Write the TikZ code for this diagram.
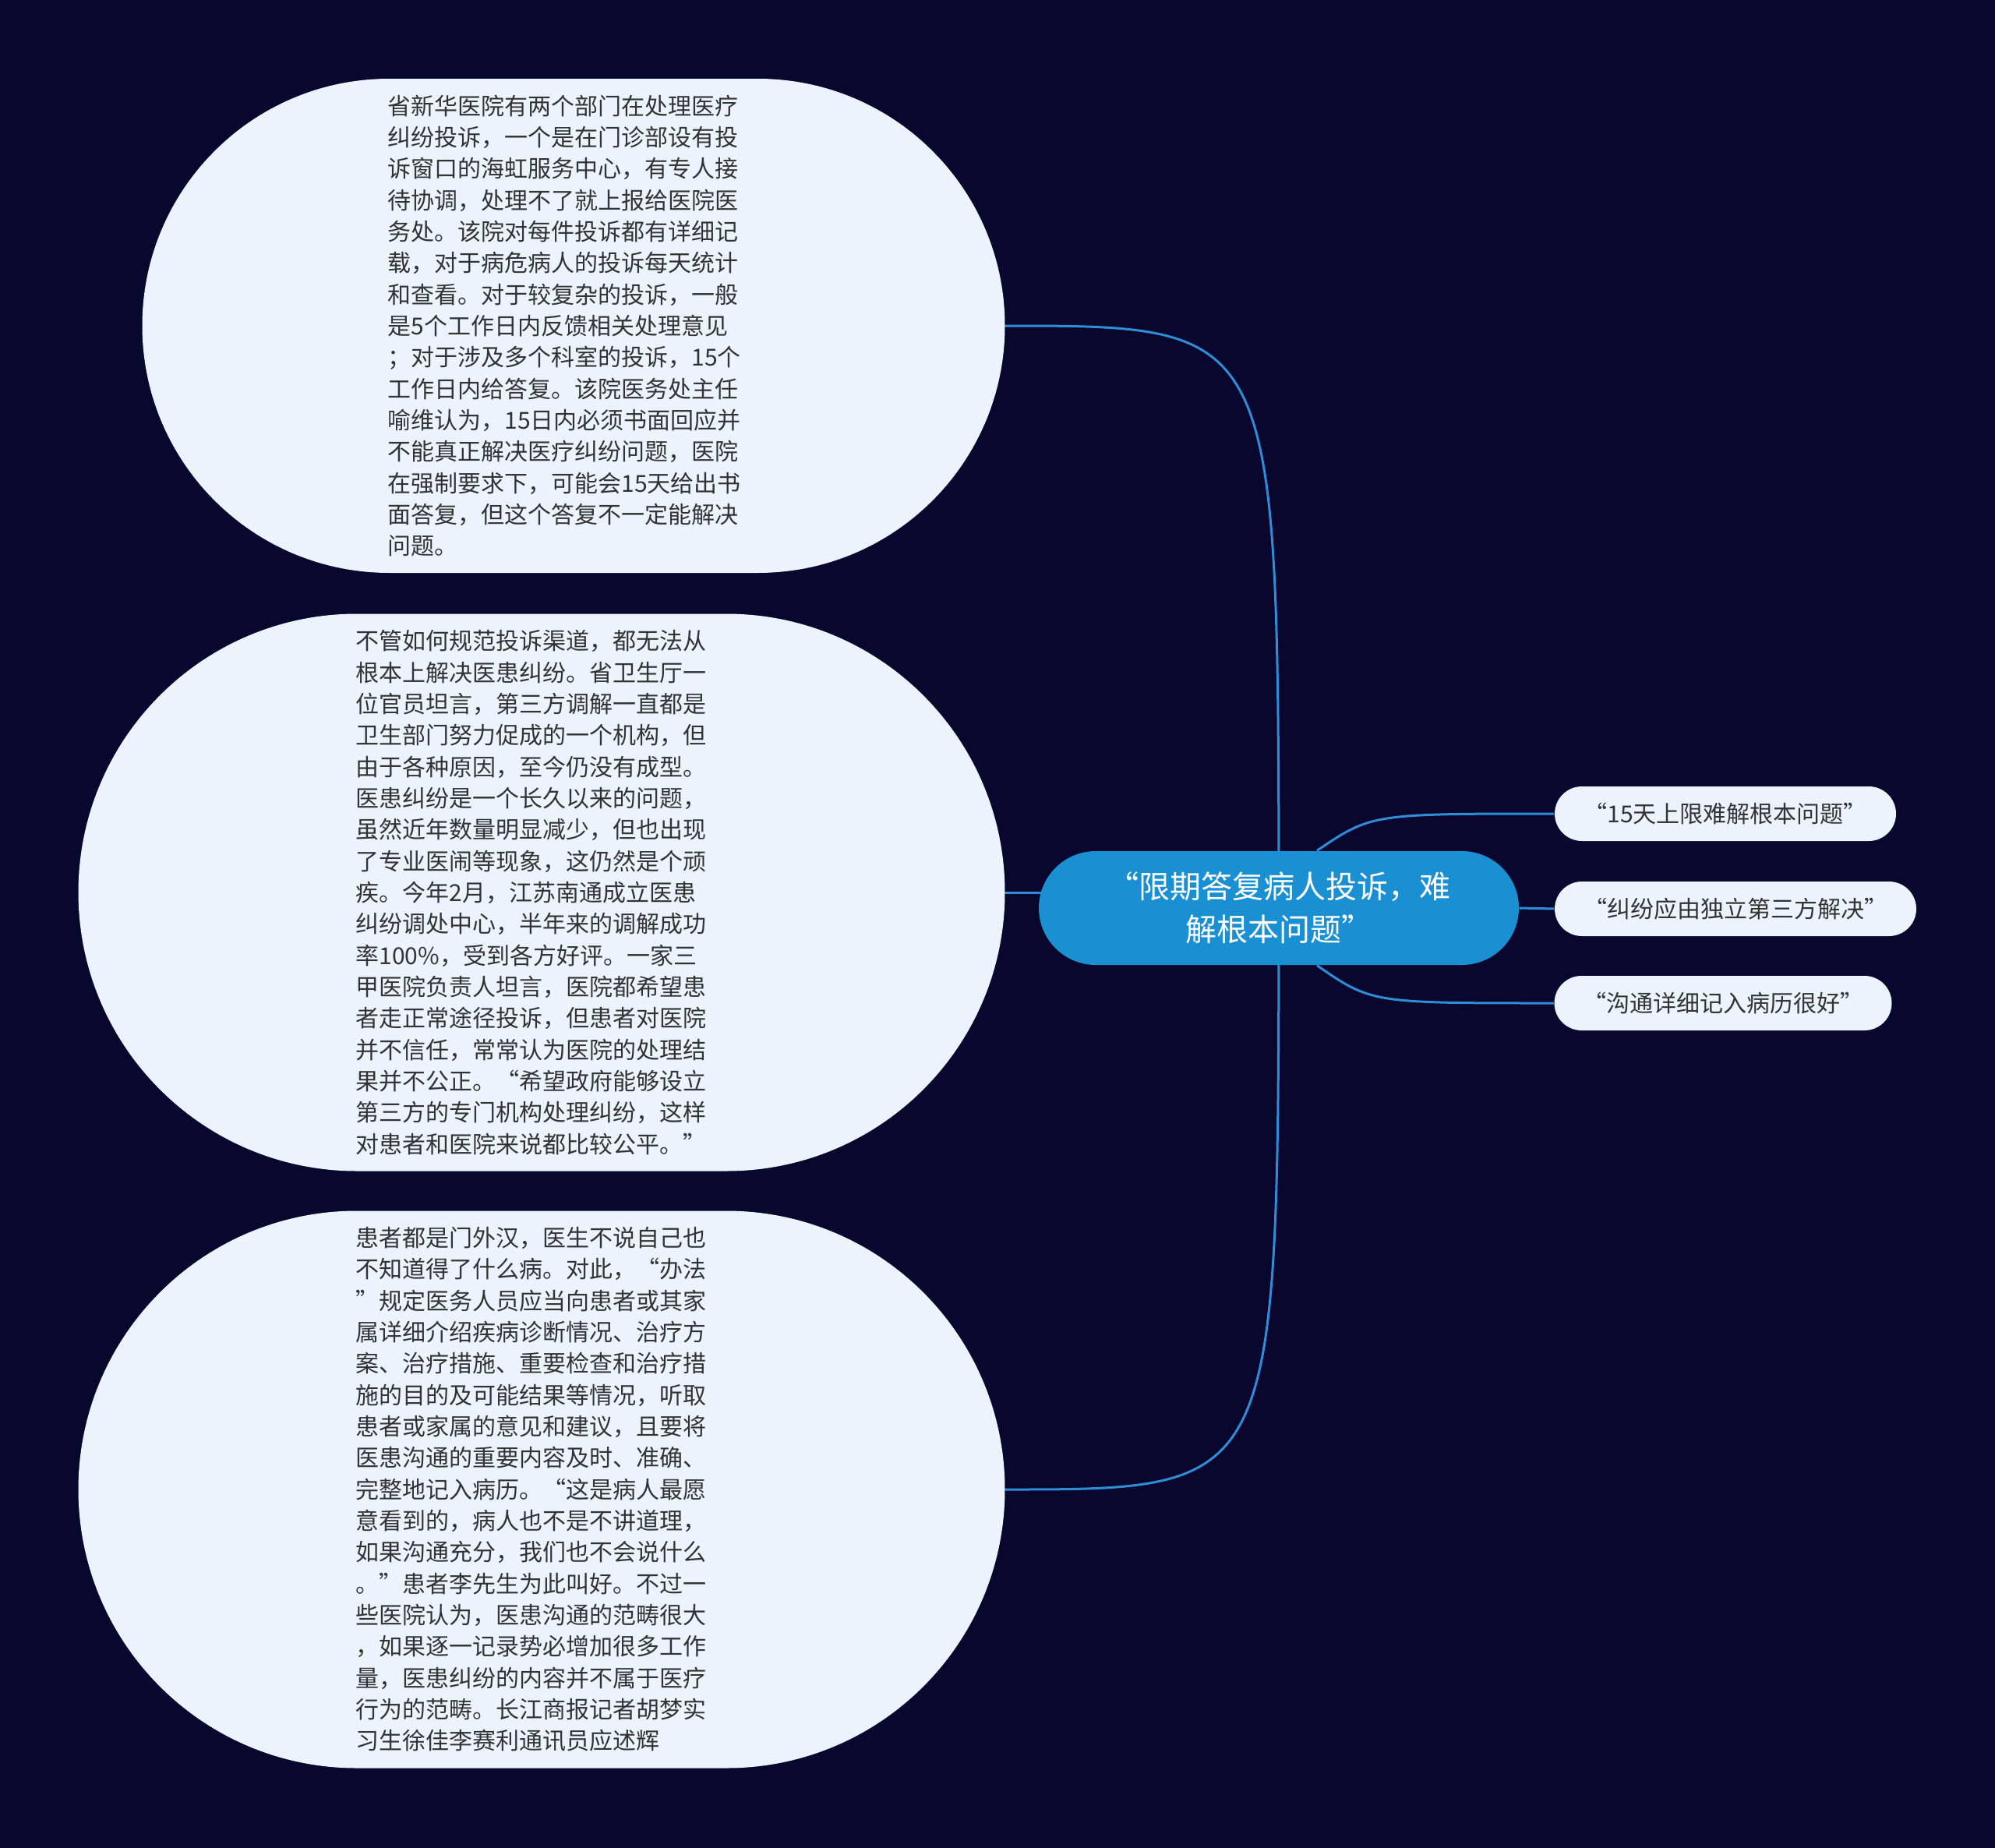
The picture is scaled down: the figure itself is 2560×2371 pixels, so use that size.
\documentclass[tikz,border=0pt]{standalone}
\usepackage{fontspec}
\setmainfont{Noto Sans CJK SC}
\usetikzlibrary{shapes.misc,backgrounds,calc}
\definecolor{night}{HTML}{0A072E}
\definecolor{paper}{HTML}{EDF3FD}
\definecolor{accent}{HTML}{1A8FD2}
\definecolor{wire}{HTML}{2E8DD6}
\definecolor{ink}{HTML}{333333}

\begin{document}
\begin{tikzpicture}[x=0.3pt,y=-0.3pt,
  note/.style={rounded rectangle,fill=paper,text=ink,inner sep=0pt,align=left,
               font={\fontsize{9}{12.1}\selectfont}},
  para/.style={note,text width=143pt},
  leaf/.style={note,align=center,minimum height=21pt},
  topic/.style={rounded rectangle,fill=accent,text=white,inner sep=0pt,align=center,
                minimum width=184.8pt,minimum height=43.8pt,font={\fontsize{12}{16.5}\selectfont}},
  link/.style={draw=wire,line width=0.9pt}]

\node[para,minimum width=332.1pt,minimum height=190.2pt] (horz) at (736,418) {省新华医院有两个部门在处理医疗\\
  纠纷投诉，一个是在门诊部设有投\\ 诉窗口的海虹服务中心，有专人接\\
  待协调，处理不了就上报给医院医\\ 务处。该院对每件投诉都有详细记\\
  载，对于病危病人的投诉每天统计\\ 和查看。对于较复杂的投诉，一般\\
  是5个工作日内反馈相关处理意见\\ ；对于涉及多个科室的投诉，15个\\
  工作日内给答复。该院医务处主任\\ 喻维认为，15日内必须书面回应并\\
  不能真正解决医疗纠纷问题，医院\\ 在强制要求下，可能会15天给出书\\
  面答复，但这个答复不一定能解决\\ 问题。};

\node[para,minimum width=356.7pt,minimum height=214.5pt] (third) at (695,1145) {不管如何规范投诉渠道，都无法从\\
  根本上解决医患纠纷。省卫生厅一\\ 位官员坦言，第三方调解一直都是\\
  卫生部门努力促成的一个机构，但\\ 由于各种原因，至今仍没有成型。\\
  医患纠纷是一个长久以来的问题，\\ 虽然近年数量明显减少，但也出现\\
  了专业医闹等现象，这仍然是个顽\\ 疾。今年2月，江苏南通成立医患\\
  纠纷调处中心，半年来的调解成功\\ 率100\%，受到各方好评。一家三\\
  甲医院负责人坦言，医院都希望患\\ 者走正常途径投诉，但患者对医院\\
  并不信任，常常认为医院的处理结\\ 果并不公正。“希望政府能够设立\\
  第三方的专门机构处理纠纷，这样\\ 对患者和医院来说都比较公平。”};

\node[para,minimum width=356.7pt,minimum height=214.5pt] (record) at (695,1911) {患者都是门外汉，医生不说自己也\\
  不知道得了什么病。对此，“办法\\ ”规定医务人员应当向患者或其家\\
  属详细介绍疾病诊断情况、治疗方\\ 案、治疗措施、重要检查和治疗措\\
  施的目的及可能结果等情况，听取\\ 患者或家属的意见和建议，且要将\\
  医患沟通的重要内容及时、准确、\\ 完整地记入病历。“这是病人最愿\\
  意看到的，病人也不是不讲道理，\\ 如果沟通充分，我们也不会说什么\\
  。”患者李先生为此叫好。不过一\\ 些医院认为，医患沟通的范畴很大\\
  ，如果逐一记录势必增加很多工作\\ 量，医患纠纷的内容并不属于医疗\\
  行为的范畴。长江商报记者胡梦实\\ 习生徐佳李赛利通讯员应述辉};

\node[topic] (root) at (1641,1165) {“限期答复病人投诉，难\\ 解根本问题”};

\node[leaf,minimum width=131.4pt] (limit) at (2214,1044) {“15天上限难解根本问题”};
\node[leaf,minimum width=139.2pt] (party) at (2227,1166) {“纠纷应由独立第三方解决”};
\node[leaf,minimum width=129.9pt] (chart) at (2211,1287) {“沟通详细记入病历很好”};

\begin{scope}[on background layer]
\fill[night] (0,0) rectangle (2560,2371);
% trunk runs under the root node
\draw[link] (root.center) .. controls (1640,418) .. (horz.east);
\draw[link] (root.center) .. controls (1640,1911) .. (record.east);
\draw[link] (third.east) -- (third.east -| root.center);
\draw[link] ($(root.north)+(49,0)$) .. controls (1760,1044) .. (limit.west);
\draw[link] (root.east) -- (party.west);
\draw[link] ($(root.south)+(49,0)$) .. controls (1760,1287) .. (chart.west);
\end{scope}
\useasboundingbox (0,0) rectangle (2560,2371);
\end{tikzpicture}
\end{document}
